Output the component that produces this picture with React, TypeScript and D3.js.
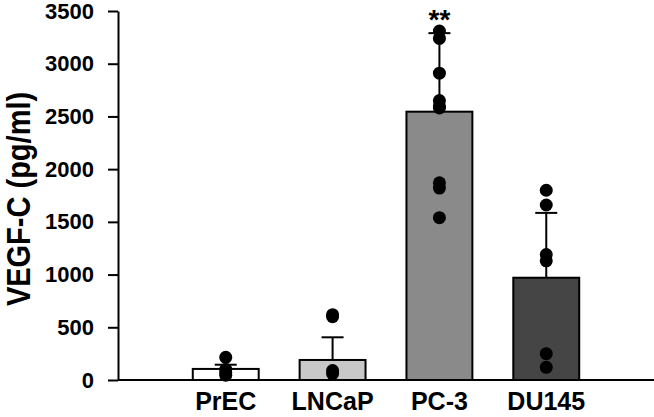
import { useRef, useEffect } from 'react';
import * as d3 from 'd3';

// cell lines and their group stats (VEGF-C, pg/ml)
const categories = ['PrEC', 'LNCaP', 'PC-3', 'DU145'];
const means = [105, 190, 2545, 970];
const upperErr = [40, 215, 745, 615];
const barFills = ['#ffffff', '#c8c8c8', '#8a8a8a', '#454545'];

// individual replicate points per cell line
const precPoints = [215, 100, 70, 45];
const lncapPoints = [620, 600, 90, 60];
const pc3Points = [3310, 3240, 2910, 2650, 2600, 2580, 1870, 1820, 1540];
const du145Points = [1800, 1660, 1190, 1130, 250, 120];
const points = [precPoints, lncapPoints, pc3Points, du145Points];

const yTicks = [0, 500, 1000, 1500, 2000, 2500, 3000, 3500];
const significance = ['', '', '**', ''];

const W = 654;
const H = 417;
const FONT = "Arial, 'Liberation Sans', sans-serif";

export default function App() {
  const svgRef = useRef<SVGSVGElement>(null);

  useEffect(() => {
    document.body.style.margin = '0';
    if (!svgRef.current) return;
    const svg = d3.select(svgRef.current);
    svg.selectAll('*').remove();

    const left = 118;
    const bottom = 380;

    const x = d3
      .scaleBand()
      .domain(categories)
      .range([left, W])
      .paddingInner(0.383)
      .paddingOuter(0.7);

    const y = d3.scaleLinear().domain([0, 3500]).range([bottom, 11]);

    // bars
    svg
      .selectAll('rect.bar')
      .data(categories)
      .enter()
      .append('rect')
      .attr('class', 'bar')
      .attr('x', (d) => x(d) || 0)
      .attr('y', (_, i) => y(means[i]))
      .attr('width', x.bandwidth())
      .attr('height', (_, i) => bottom - y(means[i]))
      .attr('fill', (_, i) => barFills[i])
      .attr('stroke', '#000')
      .attr('stroke-width', 2);

    // upper error bars
    const eg = svg.append('g').attr('stroke', '#000').attr('stroke-width', 2);
    categories.forEach((c, i) => {
      const cx = (x(c) || 0) + x.bandwidth() / 2;
      eg.append('line')
        .attr('x1', cx)
        .attr('x2', cx)
        .attr('y1', y(means[i]))
        .attr('y2', y(means[i] + upperErr[i]));
      eg.append('line')
        .attr('x1', cx - 11)
        .attr('x2', cx + 11)
        .attr('y1', y(means[i] + upperErr[i]))
        .attr('y2', y(means[i] + upperErr[i]));
    });

    // replicate dots
    categories.forEach((c, i) => {
      const cx = (x(c) || 0) + x.bandwidth() / 2;
      svg
        .append('g')
        .selectAll('circle')
        .data(points[i])
        .enter()
        .append('circle')
        .attr('cx', cx)
        .attr('cy', (d) => y(d))
        .attr('r', 6.5)
        .attr('fill', '#000');
    });

    // significance stars
    categories.forEach((c, i) => {
      if (!significance[i]) return;
      svg
        .append('text')
        .attr('x', (x(c) || 0) + x.bandwidth() / 2)
        .attr('y', y(means[i] + upperErr[i]) - 4)
        .attr('text-anchor', 'middle')
        .attr('font-family', FONT)
        .attr('font-weight', 'bold')
        .attr('font-size', 28)
        .text(significance[i]);
    });

    // y axis
    const ya = svg
      .append('g')
      .attr('transform', `translate(${left},0)`)
      .call(
        d3
          .axisLeft(y)
          .tickValues(yTicks)
          .tickFormat(d3.format('d'))
          .tickSize(10)
          .tickPadding(14)
          .tickSizeOuter(0)
      );
    ya.attr('font-size', 22).attr('font-family', FONT);
    ya.selectAll('.domain').attr('stroke', '#000').attr('stroke-width', 2);
    ya.selectAll('.tick line').attr('stroke', '#000').attr('stroke-width', 2);
    ya.selectAll('.tick text')
      .attr('fill', '#000')
      .attr('font-weight', 'bold')
      .style('font-size', '22px');

    // x axis baseline
    svg
      .append('line')
      .attr('x1', left)
      .attr('x2', W)
      .attr('y1', bottom)
      .attr('y2', bottom)
      .attr('stroke', '#000')
      .attr('stroke-width', 2);

    // category labels
    svg
      .selectAll('text.cat')
      .data(categories)
      .enter()
      .append('text')
      .attr('class', 'cat')
      .attr('x', (d) => (x(d) || 0) + x.bandwidth() / 2)
      .attr('y', 410)
      .attr('text-anchor', 'middle')
      .attr('font-family', FONT)
      .attr('font-weight', 'bold')
      .attr('font-size', 25)
      .text((d) => d);

    // y title
    svg
      .append('text')
      .attr('transform', `translate(30,199) rotate(-90) scale(1,1.15)`)
      .attr('text-anchor', 'middle')
      .attr('font-family', FONT)
      .attr('font-weight', 'bold')
      .attr('font-size', 29)
      .text('VEGF-C (pg/ml)');
  }, []);

  return <svg ref={svgRef} width={W} height={H} style={{ display: 'block', background: '#fff' }} />;
}
